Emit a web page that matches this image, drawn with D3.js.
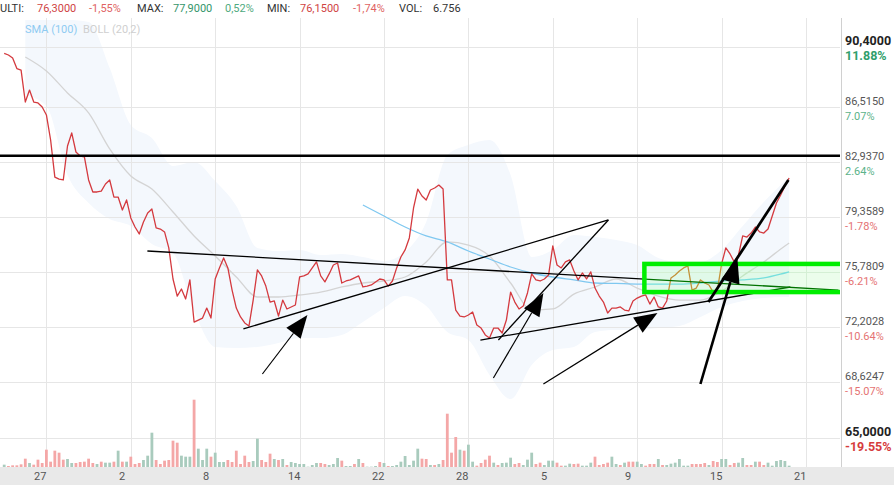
<!DOCTYPE html>
<html><head><meta charset="utf-8">
<script src="https://cdn.jsdelivr.net/npm/d3@7"></script>
<style>body{margin:0;background:#fff}svg{display:block;font-family:Roboto,"Noto Sans",sans-serif}</style>
</head><body><svg id="c" width="894" height="485"></svg>
<script>
// ---------- DATA ----------
const price = [
89.98,89.88,89.68,89.00,88.90,86.82,87.60,86.82,86.76,86.50,
85.98,84.35,81.94,81.81,81.75,83.96,84.81,83.57,83.31,83.25,
81.75,80.97,80.97,81.03,81.49,81.75,80.64,80.64,79.80,80.45,
79.28,78.69,78.24,79.02,79.60,79.86,78.63,78.56,78.37,77.33,
75.31,74.20,74.66,74.01,75.25,72.51,72.64,72.77,73.42,72.77,
75.31,76.03,76.68,76.03,74.59,73.42,72.84,72.45,72.25,73.94,
75.90,75.51,74.85,73.81,73.88,72.90,73.94,73.36,73.49,73.62,
75.44,75.51,75.64,76.03,76.42,75.51,75.12,75.64,76.22,76.35,
75.05,75.18,75.25,75.38,75.51,74.79,74.85,74.92,75.12,75.31,
75.25,74.85,75.18,76.03,76.74,77.20,77.98,79.93,81.16,80.71,
80.45,81.10,81.23,81.42,81.16,75.25,75.25,73.29,72.90,72.84,
72.97,73.16,72.32,72.12,71.67,71.47,72.12,72.12,71.80,72.64,
74.46,73.81,73.36,73.55,74.40,75.64,75.25,75.18,75.31,75.57,
77.46,76.22,76.03,76.42,76.55,75.83,75.25,75.70,75.31,75.77,
74.72,74.20,73.81,73.10,73.42,73.42,73.49,73.29,73.23,73.88,
74.07,74.20,74.27,73.68,74.14,73.49,73.42,73.88,75.38,75.57,
75.83,76.03,76.16,74.59,74.72,75.25,75.05,74.92,74.46,74.59,
76.29,77.33,76.94,76.42,76.87,78.11,78.04,78.30,78.69,78.37,
78.30,78.56,79.41,80.25,80.77,81.36,81.88];

const volume = [
7,3,5,5,8,25,12,7,22,12, 52,16,49,43,22,24,12,12,15,16,
25,12,9,16,13,13,16,49,16,16, 31,9,12,21,34,103,21,9,19,21,
79,73,34,31,31,202,55,21,55,31, 43,15,15,21,15,49,9,34,15,18,
85,21,15,40,24,21,24,6,15,12, 9,9,1,6,12,12,9,6,9,27,
19,3,3,9,24,12,1,1,3,15, 12,3,3,6,16,33,6,19,55,25,
24,6,6,9,21,160,43,90,52,49, 67,16,4,12,22,34,13,6,12,13,
28,9,12,6,22,43,9,13,6,19, 19,13,4,4,10,9,10,4,4,13,
31,6,9,13,31,9,6,13,16,16, 16,9,4,9,9,24,6,6,10,13,
24,4,4,9,9,9,12,6,18,15, 24,24,6,12,13,27,6,6,16,16,
6,13,4,18,21,18,4];
const volumeDir = (
"grrrrrgrrr"+"rrrrrggrrr"+"rrgrggrgrg"+"rrrgggrrrr"+"rrgggrgggr"+
"gggrrrrrrg"+"grrrgrgrgg"+"gggggrrggg"+"rggrgrgggr"+"grgggggggr"+
"rgrgrrrrgr"+"ggrrrrgrgg"+"grrgggrrgg"+"grrggrrggg"+"rrrrggrgrr"+
"ggrrrgrggg"+"gggrrrrgrr"+"ggrrggrrgr"+"rgggggg").split("");

const bollIdx = [5,10,15,20,25,30,35,40,45,50,55,60,65,70,75,80,85,90,95,100,105,110,115,120,125,130,135,140,145,150,155,160,165,170,175,180,185,186];
const bollUpper = [92.16,92.16,92.16,92.03,89.03,85.33,84.48,82.66,82.92,81.68,80.06,77.33,77.13,77.20,76.87,76.94,76.74,76.48,77.07,79.02,83.38,84.03,84.35,82.07,76.74,77.20,78.17,78.04,77.85,77.52,76.68,76.42,76.42,77.20,78.76,80.32,81.68,81.94];
const bollMid = [89.75,88.84,87.41,86.11,83.77,82.01,81.16,79.67,78.11,76.81,75.44,74.14,74.14,74.27,74.46,74.79,75.05,75.18,75.44,76.42,77.72,77.52,76.81,75.05,73.29,73.36,74.33,74.79,75.31,74.72,74.20,73.94,73.94,74.53,75.51,76.42,77.46,77.65];
const bollLower = [87.28,86.56,82.07,80.25,79.21,78.76,77.59,77.00,73.23,70.89,70.82,70.89,71.15,71.47,71.47,71.67,72.51,73.42,74.20,73.55,71.86,71.34,69.07,67.50,69.72,70.69,70.89,71.86,71.99,71.99,72.12,72.25,72.84,73.49,73.88,74.07,74.14,74.14];

const smaIdx = [85,90,95,100,105,110,115,120,125,130,135,140,145,150,155,160,165,170,175,180,185,186];
const sma100 = [80.12,79.41,78.69,78.11,77.72,77.13,76.61,76.09,75.70,75.44,75.25,75.05,75.02,74.98,74.98,74.98,75.05,75.18,75.25,75.38,75.70,75.77];

const xTickIdx = [10,30,50,70,90,110,130,150,170,190];
const xTickLabels = ["27","2","8","14","22","28","5","9","15","21"];
const yTicks = [90.4,86.515,82.937,79.3589,75.7809,72.2028,68.6247,65.0];
const yPct = ["11.88%","7.07%","2.64%","-1.78%","-6.21%","-10.64%","-15.07%","-19.55%"];

const headerItems = ["ULTI:","76,3000","-1,55%","MAX:","77,9000","0,52%","MIN:","76,1500","-1,74%","VOL:","6.756"];

// drawings (index, price)
const hLine = 83.33;
const trendUnderBox = [[33.93,77.13,197.7,74.59],[112.84,71.34,186.3,74.79]];
const trendOver = [[56.68,72.06,143.18,79.15],[143.18,79.15,117.11,71.34]];
const thinArrows = [[61.18,69.13,71.85,72.97],[115.92,68.87,127.77,74.40],[127.77,68.48,154.79,73.10]];
const thickArrow = [164.98,68.48,173.74,76.68];
const thickLine = [166.87,73.81,185.83,81.75];
const greenBox = [151.7,76.29,74.46];

// ---------- LAYOUT ----------
const svg = d3.select("#c");
const PL=0, PR=840, PT=18, PB=467, W=894, H=485;
const x = d3.scaleLinear().domain([0,186]).range([4.2, 4.2+4.22*186]);
const y = d3.scaleLinear().domain([65,90.4]).range([437.5,47]);
const yv = d3.scaleLinear().domain([0,202]).range([PB, PB-67.3]);

svg.append("rect").attr("width",W).attr("height",H).attr("fill","#fff");
svg.append("defs").append("clipPath").attr("id","plot").append("rect")
  .attr("x",PL).attr("y",PT).attr("width",PR-PL).attr("height",PB-PT);

// bottom band
svg.append("rect").attr("x",0).attr("y",PB).attr("width",W).attr("height",H-PB).attr("fill","#e9e9e9");

const plot = svg.append("g").attr("clip-path","url(#plot)");
plot.append("rect").attr("x",PL).attr("y",PT).attr("width",PR-PL).attr("height",PB-PT).attr("fill","#fff");

// bollinger band
plot.append("path").datum(bollIdx.map((d,k)=>k))
  .attr("d", d3.area().x(k=>x(bollIdx[k])).y0(k=>y(bollLower[k])).y1(k=>y(bollUpper[k])).curve(d3.curveMonotoneX))
  .attr("fill","#f4f8fd");

// grid
const grid = plot.append("g").attr("stroke","#e6e6e6").attr("stroke-width",1).attr("shape-rendering","crispEdges");
yTicks.forEach(v=>grid.append("line").attr("x1",PL).attr("x2",PR).attr("y1",Math.round(y(v))+0.5).attr("y2",Math.round(y(v))+0.5));
xTickIdx.forEach(i=>grid.append("line").attr("x1",Math.round(x(i))+0.5).attr("x2",Math.round(x(i))+0.5).attr("y1",PT).attr("y2",PB));

plot.append("path").datum(bollIdx.map((d,k)=>k))
  .attr("d", d3.line().x(k=>x(bollIdx[k])).y(k=>y(bollMid[k])).curve(d3.curveMonotoneX))
  .attr("fill","none").attr("stroke","#d4d4d4").attr("stroke-width",1.3);
plot.append("path").datum(smaIdx.map((d,k)=>k))
  .attr("d", d3.line().x(k=>x(smaIdx[k])).y(k=>y(sma100[k])).curve(d3.curveMonotoneX))
  .attr("fill","none").attr("stroke","#7fc8f0").attr("stroke-width",1.3);

// volume
plot.append("g").selectAll("rect").data(volume).join("rect")
  .attr("x",(d,i)=>x(i)-1.4).attr("width",2.8)
  .attr("y",d=>yv(d)).attr("height",d=>PB-yv(d))
  .attr("fill",(d,i)=>volumeDir[i]==="g"?"#a9cbbd":"#f4a7a7");

// price
plot.append("path").datum(price)
  .attr("d", d3.line().x((d,i)=>x(i)).y(d=>y(d)))
  .attr("fill","none").attr("stroke","#d43a3f").attr("stroke-width",1.3).attr("stroke-linejoin","round");

function seg(g,s,w){
  g.append("line").attr("x1",x(s[0])).attr("y1",y(s[1])).attr("x2",x(s[2])).attr("y2",y(s[3]))
   .attr("stroke","#000").attr("stroke-width",w);
}
trendUnderBox.forEach(s=>seg(plot,s,1.3));

// green box
const bx = x(greenBox[0]), by1 = y(greenBox[1]), by2 = y(greenBox[2]);
plot.append("rect").attr("x",bx).attr("y",by1).attr("width",900).attr("height",by2-by1)
  .attr("fill","#00c800").attr("fill-opacity",0.08);
plot.append("rect").attr("x",bx).attr("y",by1).attr("width",900).attr("height",by2-by1)
  .attr("fill","rgb(0,105,0)").style("mix-blend-mode","screen");
plot.append("rect").attr("x",bx).attr("y",by1).attr("width",900).attr("height",by2-by1)
  .attr("fill","none").attr("stroke","#00ee00").attr("stroke-width",4.5);

// other drawings
plot.append("line").attr("x1",PL).attr("x2",PR).attr("y1",y(hLine)).attr("y2",y(hLine))
  .attr("stroke","#000").attr("stroke-width",2.4);
trendOver.forEach(s=>seg(plot,s,1.3));

function arrow(s,w,len,hw){
  const x1=x(s[0]),y1=y(s[1]),x2=x(s[2]),y2=y(s[3]);
  const dx=x2-x1,dy=y2-y1,L=Math.hypot(dx,dy),ux=dx/L,uy=dy/L;
  const bx=x2-ux*len, by=y2-uy*len;
  plot.append("line").attr("x1",x1).attr("y1",y1).attr("x2",bx).attr("y2",by).attr("stroke","#000").attr("stroke-width",w);
  plot.append("path").attr("d",`M${x2},${y2}L${bx-uy*hw},${by+ux*hw}L${bx+uy*hw},${by-ux*hw}Z`).attr("fill","#000");
}
thinArrows.forEach(s=>arrow(s,1.2,23,9));
arrow(thickArrow,2.6,25,9.5);
seg(plot,thickLine,2.8);

svg.append("line").attr("x1",841.5).attr("x2",841.5).attr("y1",PT).attr("y2",PB).attr("stroke","#d0d0d0").attr("shape-rendering","crispEdges");

// right axis labels
yTicks.forEach((v,k)=>{
  const bold = (k===0||k===yTicks.length-1);
  const yy = Math.round(y(v));
  const pos = !yPct[k].startsWith("-");
  svg.append("text").attr("x",845).attr("y",yy-2.5)
    .attr("font-size",bold?12.5:11).attr("font-weight",bold?"bold":"normal")
    .attr("fill",bold?"#222":"#555").text(d3.format(".4f")(v).replace(".",","));
  svg.append("text").attr("x",845).attr("y",yy+12.5)
    .attr("font-size",bold?12.5:11).attr("font-weight",bold?"bold":"normal")
    .attr("fill",pos?(bold?"#2f9e6b":"#5cb38a"):(bold?"#d63c3c":"#e57373")).text(yPct[k]);
});

// x labels
xTickIdx.forEach((i,k)=>{
  svg.append("text").attr("x",Math.round(x(i))-12).attr("y",480).attr("font-size",11)
    .attr("fill","#555").text(xTickLabels[k]);
});

// legend
svg.append("text").attr("x",25).attr("y",33).attr("font-size",11).attr("fill","#8ecbf2").text("SMA (100)");
svg.append("text").attr("x",83).attr("y",33).attr("font-size",11).attr("fill","#cfcfcf").text("BOLL (20,2)");

// header
const hx = [0,37,89,137,173,225,267,300,353,399,433];
const hc = ["#333","#cf4343","#e06363","#333","#34966a","#4faa80","#333","#cf4343","#e06363","#333","#333"];
headerItems.forEach((t,k)=>svg.append("text").attr("x",hx[k]).attr("y",12).attr("font-size",11).attr("fill",hc[k]).text(t));
</script></body></html>
